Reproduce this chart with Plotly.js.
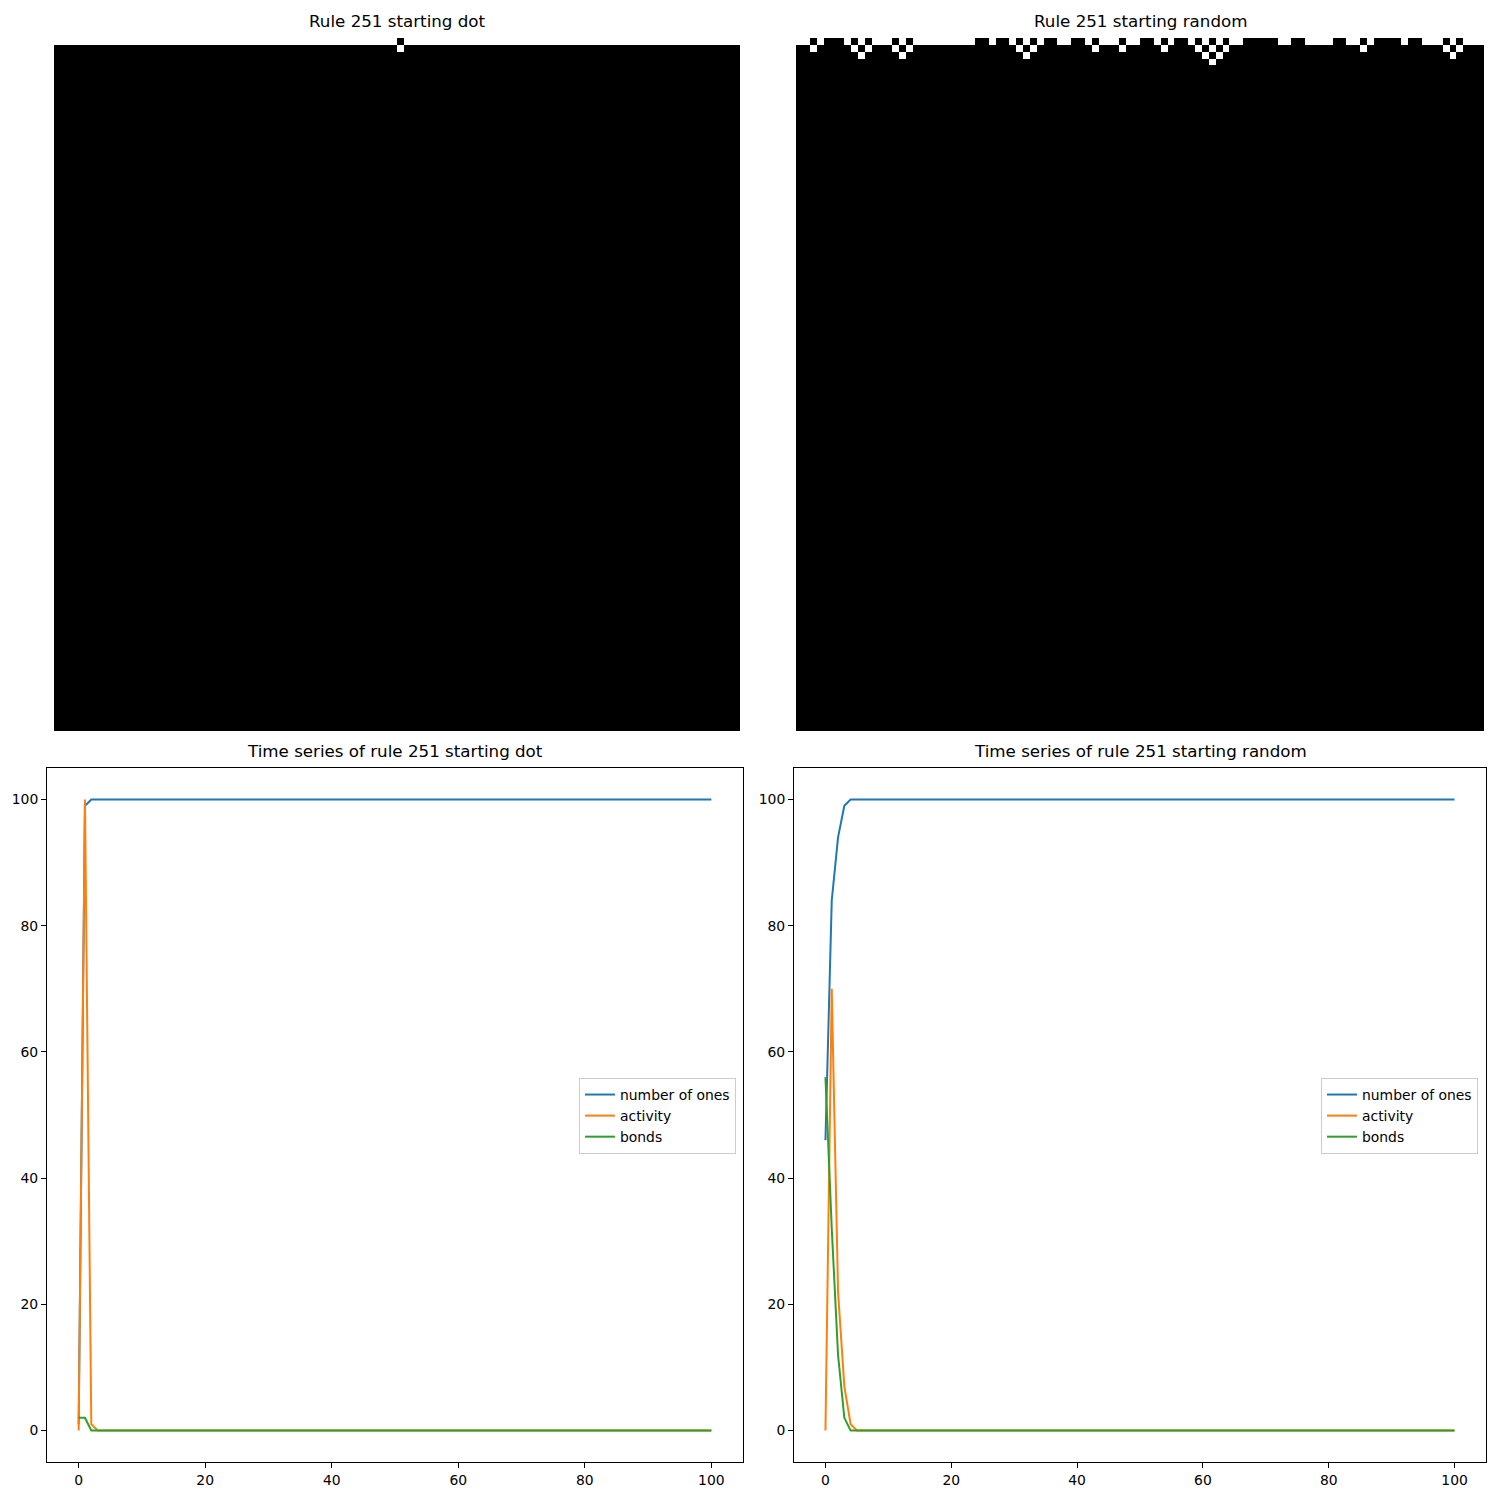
<!DOCTYPE html>
<html>
<head>
<meta charset="utf-8">
<script src="https://cdn.plot.ly/plotly-3.0.1.min.js"></script>
<style>
  body { margin: 0; background: #fff; }
  #chart { width: 1500px; height: 1500px; }
</style>
</head>
<body>
<div id="chart"></div>
<script>
// rule 251, starting from a single dot: rows that are not all ones (1 = black)
var dotRows = [
  "00000000000000000000" + "00000000000000000000" + "00000000001000000000" + "00000000000000000000" + "00000000000000000000",
  "11111111111111111111" + "11111111111111111111" + "11111111110111111111" + "11111111111111111111" + "11111111111111111111"
];
var dotSettledRows = 99;   // rows 2..100 are all ones

// rule 251, random start
var randRows = [
  "00101110101000101000" + "00000011011010101100" + "11010001001101011010" + "10100111110011000011" + "00101111011000101000",
  "11011111010111010111" + "11111111111101011111" + "11101110111110111101" + "01011111111111111111" + "11011111111111010111",
  "11111111101111101111" + "11111111111110111111" + "11111111111111111110" + "10111111111111111111" + "11111111111111101111",
  "11111111111111111111" + "11111111111111111111" + "11111111111111111111" + "01111111111111111111" + "11111111111111111111"
];
var randSettledRows = 97;  // rows 4..100 are all ones

// time series, one value per step 0..100
var onesDot = [
  1, 99, 100, 100, 100, 100, 100, 100, 100, 100, 100, 100, 100, 100, 100, 100, 100, 100, 100, 100,
  100, 100, 100, 100, 100, 100, 100, 100, 100, 100, 100, 100, 100, 100, 100, 100, 100, 100, 100, 100,
  100, 100, 100, 100, 100, 100, 100, 100, 100, 100, 100, 100, 100, 100, 100, 100, 100, 100, 100, 100,
  100, 100, 100, 100, 100, 100, 100, 100, 100, 100, 100, 100, 100, 100, 100, 100, 100, 100, 100, 100,
  100, 100, 100, 100, 100, 100, 100, 100, 100, 100, 100, 100, 100, 100, 100, 100, 100, 100, 100, 100,
  100
];
var activityDot = [
  0, 100, 1, 0, 0, 0, 0, 0, 0, 0, 0, 0, 0, 0, 0, 0, 0, 0, 0, 0,
  0, 0, 0, 0, 0, 0, 0, 0, 0, 0, 0, 0, 0, 0, 0, 0, 0, 0, 0, 0,
  0, 0, 0, 0, 0, 0, 0, 0, 0, 0, 0, 0, 0, 0, 0, 0, 0, 0, 0, 0,
  0, 0, 0, 0, 0, 0, 0, 0, 0, 0, 0, 0, 0, 0, 0, 0, 0, 0, 0, 0,
  0, 0, 0, 0, 0, 0, 0, 0, 0, 0, 0, 0, 0, 0, 0, 0, 0, 0, 0, 0,
  0
];
var bondsDot = [
  2, 2, 0, 0, 0, 0, 0, 0, 0, 0, 0, 0, 0, 0, 0, 0, 0, 0, 0, 0,
  0, 0, 0, 0, 0, 0, 0, 0, 0, 0, 0, 0, 0, 0, 0, 0, 0, 0, 0, 0,
  0, 0, 0, 0, 0, 0, 0, 0, 0, 0, 0, 0, 0, 0, 0, 0, 0, 0, 0, 0,
  0, 0, 0, 0, 0, 0, 0, 0, 0, 0, 0, 0, 0, 0, 0, 0, 0, 0, 0, 0,
  0, 0, 0, 0, 0, 0, 0, 0, 0, 0, 0, 0, 0, 0, 0, 0, 0, 0, 0, 0,
  0
];
var onesRand = [
  46, 84, 94, 99, 100, 100, 100, 100, 100, 100, 100, 100, 100, 100, 100, 100, 100, 100, 100, 100,
  100, 100, 100, 100, 100, 100, 100, 100, 100, 100, 100, 100, 100, 100, 100, 100, 100, 100, 100, 100,
  100, 100, 100, 100, 100, 100, 100, 100, 100, 100, 100, 100, 100, 100, 100, 100, 100, 100, 100, 100,
  100, 100, 100, 100, 100, 100, 100, 100, 100, 100, 100, 100, 100, 100, 100, 100, 100, 100, 100, 100,
  100, 100, 100, 100, 100, 100, 100, 100, 100, 100, 100, 100, 100, 100, 100, 100, 100, 100, 100, 100,
  100
];
var activityRand = [
  0, 70, 22, 7, 1, 0, 0, 0, 0, 0, 0, 0, 0, 0, 0, 0, 0, 0, 0, 0,
  0, 0, 0, 0, 0, 0, 0, 0, 0, 0, 0, 0, 0, 0, 0, 0, 0, 0, 0, 0,
  0, 0, 0, 0, 0, 0, 0, 0, 0, 0, 0, 0, 0, 0, 0, 0, 0, 0, 0, 0,
  0, 0, 0, 0, 0, 0, 0, 0, 0, 0, 0, 0, 0, 0, 0, 0, 0, 0, 0, 0,
  0, 0, 0, 0, 0, 0, 0, 0, 0, 0, 0, 0, 0, 0, 0, 0, 0, 0, 0, 0,
  0
];
var bondsRand = [
  56, 32, 12, 2, 0, 0, 0, 0, 0, 0, 0, 0, 0, 0, 0, 0, 0, 0, 0, 0,
  0, 0, 0, 0, 0, 0, 0, 0, 0, 0, 0, 0, 0, 0, 0, 0, 0, 0, 0, 0,
  0, 0, 0, 0, 0, 0, 0, 0, 0, 0, 0, 0, 0, 0, 0, 0, 0, 0, 0, 0,
  0, 0, 0, 0, 0, 0, 0, 0, 0, 0, 0, 0, 0, 0, 0, 0, 0, 0, 0, 0,
  0, 0, 0, 0, 0, 0, 0, 0, 0, 0, 0, 0, 0, 0, 0, 0, 0, 0, 0, 0,
  0
];

var seriesNames = ['number of ones', 'activity', 'bonds'];
var seriesColors = ['#1f77b4', '#ff7f0e', '#2ca02c'];
var titles = ['Rule 251 starting dot', 'Rule 251 starting random',
              'Time series of rule 251 starting dot', 'Time series of rule 251 starting random'];

// turn the row strings into a z matrix
function buildGrid(rows, settled) {
  var z = rows.map(function (r) { return r.split('').map(Number); });
  var full = z[0].map(function () { return 1; });
  for (var i = 0; i < settled; i++) z.push(full.slice());
  return z;
}

function px(v) { return v / 1500; }
function py(v) { return 1 - v / 1500; }

var font = 'DejaVu Sans, sans-serif';

var traces = [];
traces.push({
  type: 'heatmap', z: buildGrid(dotRows, dotSettledRows), xaxis: 'x', yaxis: 'y',
  colorscale: [[0, '#ffffff'], [1, '#000000']], zmin: 0, zmax: 1, showscale: false, hoverinfo: 'skip'
});
traces.push({
  type: 'heatmap', z: buildGrid(randRows, randSettledRows), xaxis: 'x2', yaxis: 'y2',
  colorscale: [[0, '#ffffff'], [1, '#000000']], zmin: 0, zmax: 1, showscale: false, hoverinfo: 'skip'
});

[[onesDot, activityDot, bondsDot], [onesRand, activityRand, bondsRand]].forEach(function (set, k) {
  set.forEach(function (ys, i) {
    traces.push({
      type: 'scatter', mode: 'lines', y: ys,
      xaxis: k === 0 ? 'x3' : 'x4', yaxis: k === 0 ? 'y3' : 'y4',
      legend: k === 0 ? 'legend' : 'legend2',
      name: seriesNames[i], line: { color: seriesColors[i], width: 2 }
    });
  });
});

function imgAxis(domain, range, anchor) {
  return { domain: domain, range: range, anchor: anchor, visible: false, showgrid: false, zeroline: false, fixedrange: true };
}
function tsAxis(domain, anchor) {
  return {
    domain: domain, range: [-5, 105], anchor: anchor, showgrid: false, zeroline: false,
    showline: true, mirror: true, linecolor: '#000', linewidth: 1,
    ticks: 'outside', ticklen: 5, tickwidth: 1, tickcolor: '#000',
    tickvals: [0, 20, 40, 60, 80, 100],
    tickfont: { family: font, size: 13.9, color: '#000' }
  };
}

var imgY = [py(731), py(38)];
var tsY = [py(1462), py(768)];

function legendAt(xRight) {
  return {
    x: px(xRight), xanchor: 'right', y: py(1078), yanchor: 'top',
    bgcolor: 'rgba(255,255,255,0.8)', bordercolor: '#cccccc', borderwidth: 1,
    font: { family: font, size: 13.9, color: '#000' }, itemwidth: 30
  };
}

var tops = [38, 38, 768, 768];
var centers = [(54 + 740) / 2, (796 + 1484) / 2, (47 + 743) / 2, (794 + 1486) / 2];
var annotations = titles.map(function (t, i) {
  return {
    text: t, xref: 'paper', yref: 'paper', x: px(centers[i]), y: py(tops[i]),
    xanchor: 'center', yanchor: 'bottom', yshift: 5, showarrow: false,
    font: { family: font, size: 16.7, color: '#000' }
  };
});

var layout = {
  width: 1500, height: 1500,
  margin: { l: 0, r: 0, t: 0, b: 0 },
  paper_bgcolor: '#fff', plot_bgcolor: '#fff',
  xaxis: imgAxis([px(54), px(740)], [-0.5, 99.5], 'y'),
  yaxis: imgAxis(imgY, [100.5, -0.5], 'x'),
  xaxis2: imgAxis([px(796), px(1484)], [-0.5, 99.5], 'y2'),
  yaxis2: imgAxis(imgY, [100.5, -0.5], 'x2'),
  xaxis3: tsAxis([px(47), px(743)], 'y3'),
  yaxis3: tsAxis(tsY, 'x3'),
  xaxis4: tsAxis([px(794), px(1486)], 'y4'),
  yaxis4: tsAxis(tsY, 'x4'),
  legend: legendAt(736),
  legend2: legendAt(1478),
  annotations: annotations,
  showlegend: true
};

Plotly.newPlot('chart', traces, layout, { displayModeBar: false, staticPlot: true });
</script>
</body>
</html>
